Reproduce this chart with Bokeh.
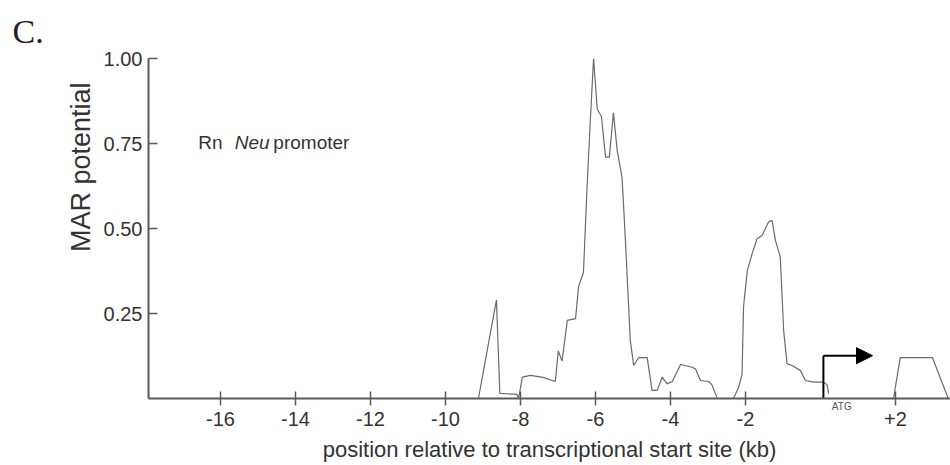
import math
from bokeh.plotting import figure
from bokeh.models import (Range1d, FixedTicker, Label, Arrow, NormalHead, Title)
from bokeh.embed import file_html
from bokeh.resources import INLINE

# ---- data ----
# upstream region: position relative to transcriptional start site (kb)
upstream_kb = [-9.12, -8.64, -8.55, -8.09, -8.05, -7.95, -7.73, -7.40, -7.07, -6.99,
               -6.89, -6.75, -6.53, -6.45, -6.32, -6.22, -6.13, -6.05, -5.95, -5.84,
               -5.73, -5.63, -5.52, -5.42, -5.29, -5.20, -5.07, -4.98, -4.85, -4.62,
               -4.49, -4.35, -4.22, -4.09, -3.95, -3.73, -3.42, -3.33, -3.20, -2.98,
               -2.89, -2.75, -2.32, -2.18, -2.09, -2.05, -1.95, -1.82, -1.69, -1.55,
               -1.38, -1.29, -1.20, -1.07, -0.98, -0.89, -0.75, -0.53, -0.40, -0.18,
               0.09, 0.18, 0.22]
upstream_mar = [0.0, 0.29, 0.015, 0.012, 0.0, 0.063, 0.068, 0.062, 0.05, 0.14,
                0.11, 0.23, 0.235, 0.33, 0.37, 0.63, 0.83, 1.0, 0.85, 0.83,
                0.71, 0.71, 0.84, 0.73, 0.65, 0.465, 0.17, 0.097, 0.12, 0.12,
                0.024, 0.024, 0.063, 0.043, 0.05, 0.10, 0.092, 0.087, 0.053, 0.05,
                0.04, 0.0, 0.0, 0.033, 0.07, 0.27, 0.376, 0.426, 0.47, 0.48,
                0.52, 0.524, 0.465, 0.416, 0.2, 0.102, 0.097, 0.082, 0.053, 0.048,
                0.048, 0.04, 0.014]
# downstream region
downstream_kb = [1.95, 2.13, 2.99, 3.41]
downstream_mar = [0.0, 0.12, 0.12, 0.0]

x_ticks = [-16, -14, -12, -10, -8, -6, -4, -2, 2]
x_tick_labels = ["-16", "-14", "-12", "-10", "-8", "-6", "-4", "-2", "+2"]
y_ticks = [0.25, 0.5, 0.75, 1.0]
y_tick_labels = ["0.25", "0.50", "0.75", "1.00"]

tss_kb = 0.08          # transcription start (arrow stem)
arrow_level = 0.126    # height of the arrow
arrow_tip_kb = 1.39

FONT = "Liberation Sans"
TEXT = "#333333"
AXIS = "#5a5a5a"

p = figure(width=950, height=465, output_backend="svg", toolbar_location=None,
           x_range=Range1d(-17.92, 3.47), y_range=Range1d(0, 1.0),
           min_border_left=148, min_border_top=58, min_border_bottom=67,
           min_border_right=0)
p.outline_line_color = None
p.grid.visible = False
p.background_fill_color = "white"

p.line(upstream_kb, upstream_mar, line_color="#6a6a6a", line_width=1.2)
p.line(downstream_kb, downstream_mar, line_color="#6a6a6a", line_width=1.2)

# x axis
xa = p.xaxis[0]
xa.ticker = FixedTicker(ticks=x_ticks)
xa.major_label_overrides = dict(zip(x_ticks, x_tick_labels))
xa.minor_tick_line_color = None
xa.major_tick_in = 7
xa.major_tick_out = 7
xa.axis_line_color = AXIS
xa.axis_line_width = 2
xa.major_tick_line_color = AXIS
xa.major_tick_line_width = 1.5
xa.major_label_text_font = FONT
xa.major_label_text_font_size = "20px"
xa.major_label_text_color = TEXT
xa.major_label_standoff = 6
xa.axis_label = "position relative to transcriptional start site (kb)"
xa.axis_label_text_font = FONT
xa.axis_label_text_font_size = "22px"
xa.axis_label_text_font_style = "normal"
xa.axis_label_text_color = TEXT
xa.axis_label_standoff = 8

# y axis
ya = p.yaxis[0]
ya.ticker = FixedTicker(ticks=y_ticks)
ya.major_label_overrides = dict(zip(y_ticks, y_tick_labels))
ya.minor_tick_line_color = None
ya.major_tick_in = 9
ya.major_tick_out = 0
ya.axis_line_color = AXIS
ya.axis_line_width = 2
ya.major_tick_line_color = AXIS
ya.major_tick_line_width = 1.5
ya.major_label_text_font = FONT
ya.major_label_text_font_size = "20px"
ya.major_label_text_color = TEXT
ya.major_label_standoff = 6

# y axis title (sits above the centre in the reference)
p.add_layout(Title(text="MAR potential", align="right", offset=24,
                   text_font=FONT, text_font_size="27px",
                   text_font_style="normal", text_color=TEXT), "left")

# panel letter
p.add_layout(Title(text="C.", align="left", offset=-136, standoff=18,
                   text_font="Liberation Serif", text_font_size="34px",
                   text_font_style="normal", text_color="#222222"), "above")

# "Rn Neu promoter"
for txt, xpos, style in [("Rn", -16.59, "normal"), ("Neu", -15.62, "italic"),
                         ("promoter", -14.59, "normal")]:
    p.add_layout(Label(x=xpos, y=0.752, text=txt, text_font=FONT,
                       text_font_size="19px", text_font_style=style,
                       text_color=TEXT, text_baseline="alphabetic"))

# transcription start arrow
p.segment(x0=[tss_kb], y0=[0], x1=[tss_kb], y1=[arrow_level],
          line_color="black", line_width=2)
p.add_layout(Arrow(x_start=tss_kb, y_start=arrow_level, x_end=arrow_tip_kb,
                   y_end=arrow_level, line_color="black", line_width=2,
                   end=NormalHead(size=16, fill_color="black", line_color="black")))
# "ATG" lives in a side panel so it is not clipped to the plot frame
p.add_layout(Label(x=0.57, y=0, text="ATG", text_align="center",
                   text_baseline="top", y_offset=-2, text_font=FONT,
                   text_font_size="10px", text_color="#555555"), "left")

open("out.html", "w").write(file_html(p, INLINE))
